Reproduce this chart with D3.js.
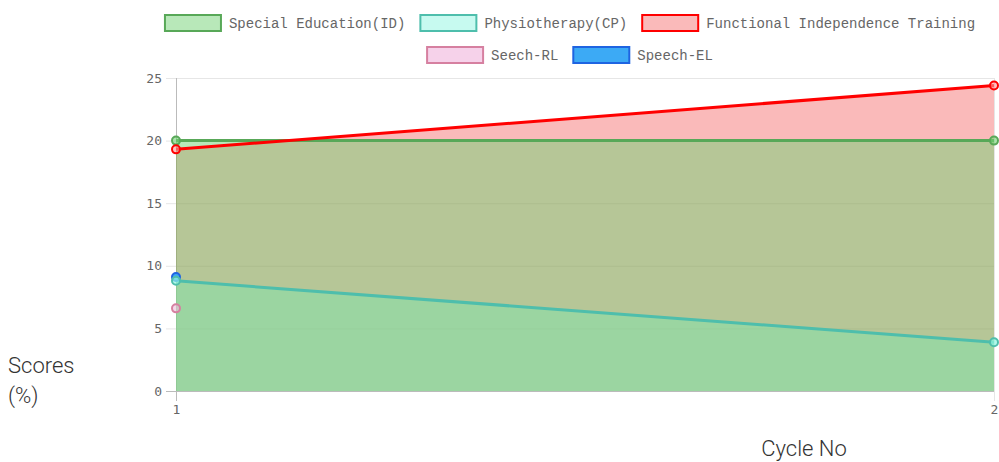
<!DOCTYPE html>
<html>
<head>
<meta charset="utf-8">
<script src="https://cdn.jsdelivr.net/npm/d3@7"></script>
<style>
  body { margin: 0; background: #fff; }
  svg { display: block; }
</style>
</head>
<body>
<svg id="chart" width="999" height="462"></svg>
<script>
//  data
const cycles = [1, 2];
const specialEd = [20, 20];
const physio = [8.8, 3.9];
const fit = [19.3, 24.4];
const seechRL = [6.6, null];
const speechEL = [9.1, null];
const yTicks = [0, 5, 10, 15, 20, 25];

const series = [
  {name: "Special Education(ID)", values: specialEd, line: "rgb(88,168,88)", fill: "rgba(114,209,115,0.5)", point: "rgba(114,209,115,0.6)"},
  {name: "Physiotherapy(CP)", values: physio, line: "rgb(78,190,172)", fill: "rgba(144,246,225,0.5)", point: "rgba(144,246,225,0.7)"},
  {name: "Functional Independence Training", values: fit, line: "rgb(255,0,0)", fill: "rgba(240,40,40,0.32)", point: "rgba(255,150,150,0.6)"},
  {name: "Seech-RL", values: seechRL, line: "rgb(214,128,160)", fill: "rgba(240,180,220,0.6)", point: "rgba(240,190,220,0.6)"},
  {name: "Speech-EL", values: speechEL, line: "rgb(30,100,225)", fill: "rgb(60,170,245)", point: "rgb(60,170,245)"}
];

function draw_chart() {
  const svg = d3.select("#chart");
  const margin = {top: 78, right: 5, bottom: 71, left: 176};
  const w = 999, h = 462;

  const x = d3.scaleLinear().domain([1, 2]).range([margin.left, w - margin.right]);
  const y = d3.scaleLinear().domain([0, 25]).range([h - margin.bottom, margin.top]);

  //  grid
  svg.append("g")
    .selectAll("line")
    .data(yTicks)
    .join("line")
      .attr("x1", margin.left - 10)
      .attr("x2", x(2))
      .attr("y1", d => y(d) + 0.5)
      .attr("y2", d => y(d) + 0.5)
      .attr("stroke", d => d == 0 ? "#bbb" : "#e6e6e6");

  svg.append("g")
    .selectAll("line")
    .data(cycles)
    .join("line")
      .attr("x1", d => x(d) + 0.5)
      .attr("x2", d => x(d) + 0.5)
      .attr("y1", y(25))
      .attr("y2", y(0) + 10)
      .attr("stroke", d => d == 1 ? "#bbb" : "#e6e6e6");

  //  axes labels
  const yAxis = d3.axisLeft(y).tickValues(yTicks).tickSize(0).tickPadding(14);
  const gy = svg.append("g")
    .attr("transform", `translate(${margin.left},0)`)
    .call(yAxis);
  gy.select(".domain").remove();
  gy.selectAll("text")
    .attr("fill", "#666")
    .style("font-family", "'DejaVu Sans Mono', monospace")
    .style("font-size", "13px");

  const xAxis = d3.axisBottom(x).tickValues(cycles).tickFormat(d3.format("d")).tickSize(0).tickPadding(14);
  const gx = svg.append("g")
    .attr("transform", `translate(0,${y(0)})`)
    .call(xAxis);
  gx.select(".domain").remove();
  gx.selectAll("text")
    .attr("fill", "#666")
    .style("font-family", "'DejaVu Sans Mono', monospace")
    .style("font-size", "13px");

  //  series: all fills first, then lines and points on top
  const area = d3.area()
    .defined(d => d.v != null)
    .x(d => x(d.c))
    .y0(y(0))
    .y1(d => y(d.v));
  const line = d3.line()
    .defined(d => d.v != null)
    .x(d => x(d.c))
    .y(d => y(d.v));

  const pointsOf = s => cycles.map((c, i) => ({c: c, v: s.values[i]}));

  series.slice().reverse().forEach(s => {
    svg.append("path").datum(pointsOf(s))
      .attr("fill", s.fill)
      .attr("d", area);
  });

  //  lines in legend order, points with the cyan marker above the blue one
  series.forEach(s => {
    svg.append("path").datum(pointsOf(s))
      .attr("fill", "none")
      .attr("stroke", s.line)
      .attr("stroke-width", 3)
      .attr("d", line);
  });
  [0, 2, 3, 4, 1].map(i => series[i]).forEach(s => {
    svg.append("g").selectAll("circle")
      .data(pointsOf(s).filter(d => d.v != null))
      .join("circle")
        .attr("cx", d => x(d.c))
        .attr("cy", d => y(d.v))
        .attr("r", 4)
        .attr("fill", s.point)
        .attr("stroke", s.line)
        .attr("stroke-width", 2);
  });

  //  legend
  const rows = [series.slice(0, 3), series.slice(3)];
  const boxW = 58, boxH = 16, textGap = 7, itemGap = 14;
  const legendFont = "14px 'Liberation Mono', monospace";
  const ctx = document.createElement("canvas").getContext("2d");
  ctx.font = legendFont;
  const cx = 569.5;
  rows.forEach((row, r) => {
    const widths = row.map(s => boxW + textGap + ctx.measureText(s.name).width);
    const total = d3.sum(widths) + itemGap * (row.length - 1);
    let left = cx - total / 2;
    const cy = 23 + r * 32;
    row.forEach((s, i) => {
      svg.append("rect")
        .attr("x", left + 1)
        .attr("y", cy - boxH / 2)
        .attr("width", boxW - 2)
        .attr("height", boxH)
        .attr("fill", s.fill)
        .attr("stroke", s.line)
        .attr("stroke-width", 2);
      svg.append("text")
        .attr("x", left + boxW + textGap)
        .attr("y", cy)
        .attr("dy", "0.35em")
        .attr("fill", "#666")
        .style("font", legendFont)
        .text(s.name);
      left += widths[i] + itemGap;
    });
  });

  //  axis titles
  const title = svg.append("text")
    .attr("x", 8)
    .attr("y", 373)
    .attr("fill", "#333")
    .style("font-family", "Roboto, sans-serif")
    .style("font-weight", 300)
    .style("font-size", "22px");
  title.append("tspan").attr("x", 8).text("Scores");
  title.append("tspan").attr("x", 8).attr("dy", 30).text("(%)");

  svg.append("text")
    .attr("x", 804)
    .attr("y", 456)
    .attr("text-anchor", "middle")
    .attr("fill", "#333")
    .style("font-family", "Roboto, sans-serif")
    .style("font-weight", 300)
    .style("font-size", "22px")
    .text("Cycle No");
}

draw_chart();
</script>
</body>
</html>
